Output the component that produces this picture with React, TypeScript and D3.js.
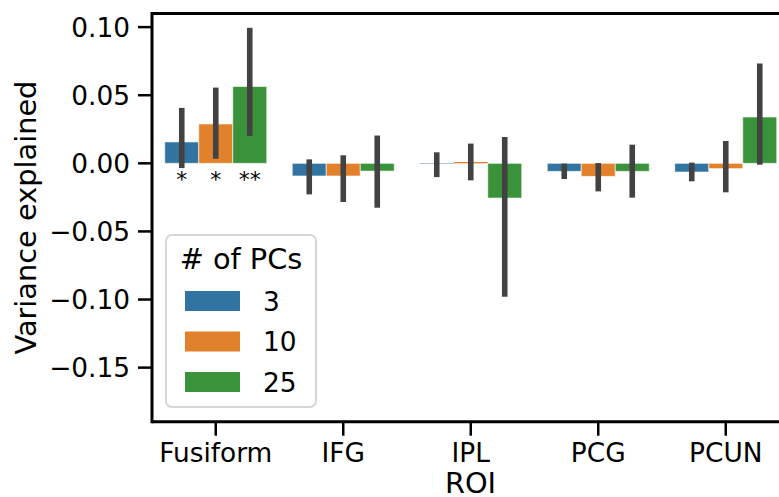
import React from "react";
import * as d3 from "d3";

const categories = ["Fusiform", "IFG", "IPL", "PCG", "PCUN"];
const hues = ["3", "10", "25"];
const hueColors = ["#3274a1", "#e1812c", "#3a923a"];

const values3 = [0.0157, -0.0093, -0.0003, -0.0059, -0.0064];
const values10 = [0.0289, -0.0093, 0.001, -0.0096, -0.0039];
const values25 = [0.0564, -0.0057, -0.0255, -0.0059, 0.034];

const errLow3 = [-0.0035, -0.0228, -0.0101, -0.0115, -0.0132];
const errHigh3 = [0.0407, 0.0029, 0.0081, -0.0002, 0.0005];
const errLow10 = [0.0034, -0.0284, -0.0125, -0.0206, -0.0213];
const errHigh10 = [0.0556, 0.0059, 0.0145, 0.0002, 0.0164];
const errLow25 = [0.0201, -0.0326, -0.098, -0.0252, -0.001];
const errHigh25 = [0.0995, 0.0204, 0.0193, 0.0137, 0.0733];

const stars = [
  { cat: "Fusiform", hue: "3", label: "*" },
  { cat: "Fusiform", hue: "10", label: "*" },
  { cat: "Fusiform", hue: "25", label: "**" },
];

const yTicks = [0.1, 0.05, 0.0, -0.05, -0.1, -0.15];

export default function App() {
  const W = 779, H = 497;
  const left = 152, top = 13.5, bottom = 421.7;
  const band = 127.5;
  const right = left + band * categories.length;
  const font = "DejaVu Sans, sans-serif";

  const x = d3.scaleBand<string>().domain(categories).range([left, right]).padding(0);
  const xh = d3.scaleBand<string>().domain(hues).range([0.1 * band, 0.9 * band]).padding(0);
  const y = d3.scaleLinear().domain([-0.1897, 0.11]).range([bottom, top]);

  const vals = [values3, values10, values25];
  const lows = [errLow3, errLow10, errLow25];
  const highs = [errHigh3, errHigh10, errHigh25];

  const fmt = (v: number) => {
    const s = d3.format(".2f")(Math.abs(v));
    return v < -1e-9 ? "\u2212" + s : s;
  };

  const bars: any[] = [];
  const errs: any[] = [];
  hues.forEach((h, hi) => {
    categories.forEach((c, ci) => {
      const v = vals[hi][ci];
      const bx = (x(c) as number) + (xh(h) as number);
      const bw = xh.bandwidth();
      const y0 = y(0), y1 = y(v);
      const hgt = Math.abs(y1 - y0);
      bars.push(
        <rect key={`b${hi}-${ci}`} x={bx} width={bw} y={Math.min(y0, y1)} height={hgt}
          fill={hueColors[hi]} stroke="#ffffff" strokeOpacity={hgt > 1.5 ? 0.6 : 0} strokeWidth={1} />
      );
      errs.push(
        <line key={`e${hi}-${ci}`} x1={bx + bw / 2} x2={bx + bw / 2} y1={y(lows[hi][ci])} y2={y(highs[hi][ci])}
          stroke="#424242" strokeWidth={5.6} />
      );
    });
  });

  return (
    <svg width={W} height={H} style={{ position: "absolute", left: 0, top: 0, background: "#fff" }}
      fontFamily={font}>
      <rect x={0} y={0} width={W} height={H} fill="#ffffff" />
      {bars}
      {errs}
      {stars.map((s, i) => {
        const cx = (x(s.cat) as number) + (xh(s.hue) as number) + xh.bandwidth() / 2;
        return (
          <text key={`s${i}`} x={cx} y={y(0) + 24} textAnchor="middle" fontSize={22} fill="#000">{s.label}</text>
        );
      })}
      {/* spines */}
      <line x1={left} x2={left} y1={top - 1.5} y2={bottom + 1.5} stroke="#000" strokeWidth={3} />
      <line x1={left} x2={right} y1={top} y2={top} stroke="#000" strokeWidth={3} />
      <line x1={left} x2={right} y1={bottom} y2={bottom} stroke="#000" strokeWidth={3} />
      <line x1={right} x2={right} y1={top} y2={bottom} stroke="#000" strokeWidth={3} />
      {/* y ticks */}
      {yTicks.map((t, i) => (
        <g key={`yt${i}`}>
          <line x1={left - 14} x2={left} y1={y(t)} y2={y(t)} stroke="#000" strokeWidth={2.5} />
          <text x={left - 22} y={y(t)} dy="0.36em" textAnchor="end" fontSize={26.4} fill="#000">{fmt(t)}</text>
        </g>
      ))}
      {/* x ticks */}
      {categories.map((c, i) => {
        const cx = (x(c) as number) + band / 2;
        return (
          <g key={`xt${i}`}>
            <line x1={cx} x2={cx} y1={bottom} y2={bottom + 14} stroke="#000" strokeWidth={2.5} />
            <text x={cx} y={461.5} textAnchor="middle" fontSize={26.4} fill="#000">{c}</text>
          </g>
        );
      })}
      {/* axis labels */}
      <text x={470.5} y={492.5} textAnchor="middle" fontSize={28.8} fill="#000">ROI</text>
      <text transform={`translate(36,${(top + bottom) / 2}) rotate(-90)`} textAnchor="middle" fontSize={28.8} fill="#000">Variance explained</text>
      {/* legend */}
      <rect x={166} y={235} width={150} height={172} rx={6} ry={6} fill="#ffffff" fillOpacity={0.8} stroke="#d6d6d6" strokeWidth={2} />
      <text x={241} y={269.3} textAnchor="middle" fontSize={28.8} fill="#000"># of PCs</text>
      {hues.map((h, i) => (
        <g key={`lg${i}`}>
          <rect x={185} y={291 + i * 40.5} width={55} height={20} fill={hueColors[i]} />
          <text x={263} y={310.7 + i * 40.5} fontSize={26.4} fill="#000">{h}</text>
        </g>
      ))}
    </svg>
  );
}
